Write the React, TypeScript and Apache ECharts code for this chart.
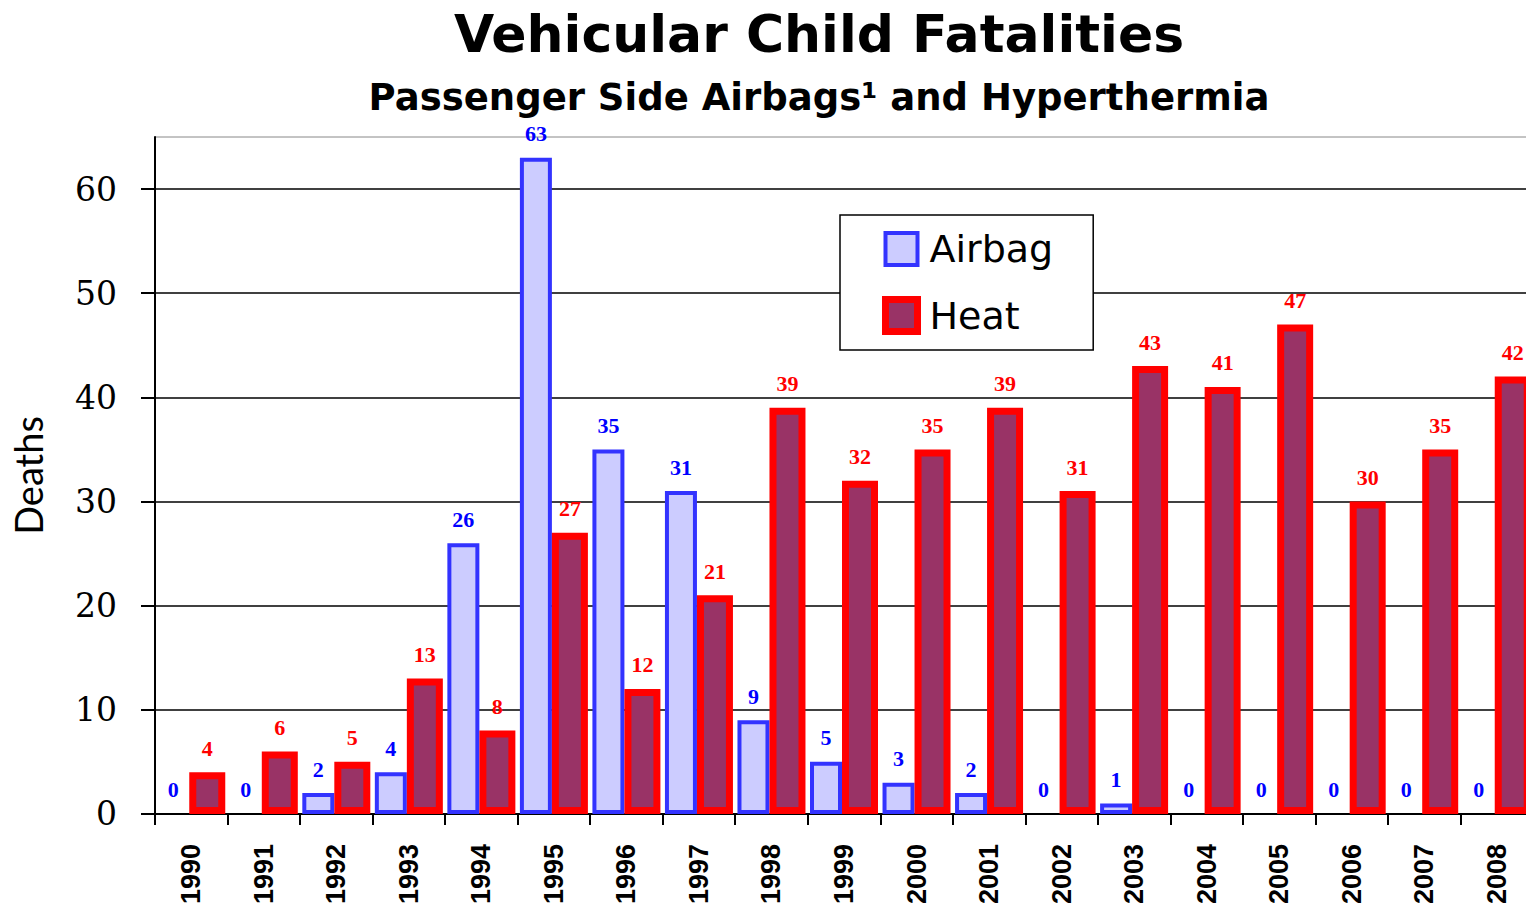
import React, { useEffect, useRef } from "react";
import * as echarts from "echarts";

const years = ["1990","1991","1992","1993","1994","1995","1996","1997","1998","1999","2000","2001","2002","2003","2004","2005","2006","2007","2008"];
const airbag = [0, 0, 2, 4, 26, 63, 35, 31, 9, 5, 3, 2, 0, 1, 0, 0, 0, 0, 0];
const heat = [4, 6, 5, 13, 8, 27, 12, 21, 39, 32, 35, 39, 31, 43, 41, 47, 30, 35, 42];
const yTicks = [0, 10, 20, 30, 40, 50, 60];

const titleText = "Vehicular Child Fatalities";
const subtitleText = "Passenger Side Airbags\u00B9 and Hyperthermia";

export default function App() {
  const ref = useRef<HTMLDivElement>(null);
  useEffect(() => {
    if (!ref.current) return;
    const chart = echarts.init(ref.current, undefined, { renderer: "svg" });
    const airbagStyle = { color: "#CCCCFF", borderColor: "#3333FF", borderWidth: 4 };
    const heatStyle = { color: "#993366", borderColor: "#FF0000", borderWidth: 7 };
    const labelBase = {
      show: true,
      position: "top",
      distance: 13,
      fontFamily: "Liberation Serif",
      fontWeight: "bold",
      fontSize: 22,
    };
    chart.setOption({
      animation: false,
      backgroundColor: "#ffffff",
      graphic: [
        {
          type: "text",
          x: 819,
          y: 34,
          style: {
            text: titleText,
            textAlign: "center",
            textVerticalAlign: "middle",
            fontFamily: "DejaVu Sans",
            fontWeight: "bold",
            fontSize: 52,
            fill: "#000",
          },
        },
        {
          type: "text",
          x: 819,
          y: 97,
          style: {
            text: subtitleText,
            textAlign: "center",
            textVerticalAlign: "middle",
            fontFamily: "DejaVu Sans",
            fontWeight: "bold",
            fontSize: 37,
            fill: "#000",
          },
        },
      ],
      legend: {
        orient: "vertical",
        left: 840,
        top: 215,
        padding: [15, 40, 15, 42],
        itemGap: 28,
        itemWidth: 32,
        itemHeight: 32,
        borderColor: "#000",
        borderWidth: 1.5,
        backgroundColor: "#fff",
        textStyle: { fontFamily: "DejaVu Sans", fontSize: 38, color: "#000", padding: [0, 0, 0, 7] },
        data: [
          { name: "Airbag", icon: "rect", itemStyle: airbagStyle },
          { name: "Heat", icon: "rect", itemStyle: heatStyle },
        ],
      },
      grid: {
        left: 155,
        width: 1378,
        top: 137,
        bottom: 92,
        show: true,
        borderColor: "#888",
        borderWidth: 1,
        backgroundColor: "transparent",
      },
      xAxis: {
        type: "category",
        data: years,
        axisLine: { lineStyle: { color: "#000", width: 2 } },
        axisTick: { show: true, length: 11, lineStyle: { color: "#000", width: 2 } },
        axisLabel: {
          rotate: 90,
          margin: 30,
          fontFamily: "Liberation Sans",
          fontWeight: "bold",
          fontSize: 27,
          color: "#000",
        },
        splitLine: { show: false },
      },
      yAxis: {
        type: "value",
        min: 0,
        max: 65,
        interval: 10,
        name: "Deaths",
        nameLocation: "middle",
        nameGap: 108,
        nameTextStyle: { fontFamily: "Lato", fontSize: 38, color: "#000" },
        axisLine: { show: true, lineStyle: { color: "#000", width: 2 } },
        axisTick: { show: true, length: 14, customValues: yTicks, lineStyle: { color: "#000", width: 2 } },
        axisLabel: {
          customValues: yTicks,
          margin: 38,
          fontFamily: "DejaVu Serif",
          fontSize: 33,
          color: "#000",
        },
        splitLine: {
          show: true,
          lineStyle: { color: ["#000", "#000", "#000", "#000", "#000", "#000", "#000", "#888"], width: 1.5 },
        },
      },
      series: [
        {
          name: "Airbag",
          type: "bar",
          barWidth: 32,
          barGap: "0%",
          data: airbag.map((v) => (v === 0 ? { value: v, itemStyle: { borderWidth: 0 } } : v)),
          itemStyle: airbagStyle,
          label: { ...labelBase, color: "#0000FF" },
        },
        {
          name: "Heat",
          type: "bar",
          barWidth: 36,
          barGap: "0%",
          data: heat,
          itemStyle: heatStyle,
          label: { ...labelBase, color: "#FF0000" },
        },
      ],
    });
    return () => chart.dispose();
  }, []);
  return (
    <div style={{ position: "fixed", left: 0, top: 0, width: 1526, height: 907, overflow: "hidden", background: "#fff" }}>
      <div ref={ref} style={{ position: "absolute", left: 0, top: 0, width: 1545, height: 907 }} />
    </div>
  );
}
